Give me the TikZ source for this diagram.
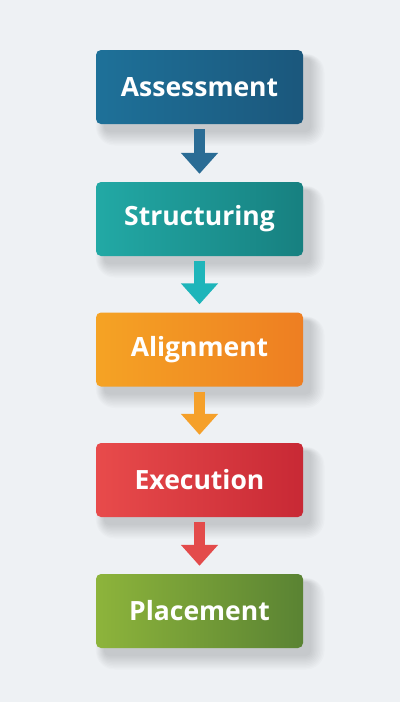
\documentclass[tikz,border=0pt]{standalone}
\usepackage{fontspec}
\setmainfont{Open Sans}
\usetikzlibrary{arrows.meta}
\definecolor{bgcol}{HTML}{EEF1F4}
\definecolor{blueL}{HTML}{1E7199}
\definecolor{blueR}{HTML}{1B577C}
\definecolor{tealL}{HTML}{22A9A5}
\definecolor{tealR}{HTML}{178080}
\definecolor{orangeL}{HTML}{F5A324}
\definecolor{orangeR}{HTML}{EE7E22}
\definecolor{redL}{HTML}{E84B4B}
\definecolor{redR}{HTML}{C82935}
\definecolor{greenL}{HTML}{8DB43B}
\definecolor{greenR}{HTML}{5A8333}
\definecolor{arrBlue}{HTML}{2A6C95}
\definecolor{arrTeal}{HTML}{1EB5BA}
\definecolor{arrOrange}{HTML}{F5A02A}
\definecolor{arrRed}{HTML}{E34B4B}
\tikzset{
  stagebox/.style={rounded corners=5pt, minimum width=207pt, minimum height=74pt,
    inner sep=0pt, text=white, font=\bfseries\fontsize{26.5}{30}\selectfont},
  flowarrow/.style={line width=11pt, -{Triangle[width=36pt,length=21pt]},
    shorten <=5pt, shorten >=8pt}
}
% soft shadow under a box whose centre is at (#1,#2)
\def\boxshadow(#1,#2){\foreach \r in {0,1.5,...,13.5}
  {\fill[black, opacity=0.016, rounded corners=5pt+\r pt]
    (#1-103.5+8-\r*0.6, #2+37-8+\r*0.3) rectangle (#1+103.5+8+\r, #2-37-8-\r);}}

\begin{document}
\begin{tikzpicture}[x=1pt,y=1pt]
			%%%%% START %%%%%
			
			\fill[bgcol] (0, 0) rectangle (400, -702);
			\useasboundingbox (0, 0) rectangle (400, -702);
			
			\boxshadow(199.5,-87)
			\boxshadow(199.5,-219)
			\boxshadow(199.5,-349.5)
			\boxshadow(199.5,-480)
			\boxshadow(199.5,-611)
			
			\node[stagebox, left color=blueL, right color=blueR] (assess) at (199.5, -87) {Assessment};
			\node[stagebox, left color=tealL, right color=tealR] (struct) at (199.5, -219) {Structuring};
			\node[stagebox, left color=orangeL, right color=orangeR] (align) at (199.5, -349.5) {Alignment};
			\node[stagebox, left color=redL, right color=redR] (exec) at (199.5, -480) {Execution};
			\node[stagebox, left color=greenL, right color=greenR] (place) at (199.5, -611) {Placement};
			
			\draw[flowarrow, arrBlue] (assess) -- (struct);
			\draw[flowarrow, arrTeal] (struct) -- (align);
			\draw[flowarrow, arrOrange] (align) -- (exec);
			\draw[flowarrow, arrRed] (exec) -- (place);
			
			%%%%% END %%%%%
\end{tikzpicture}
\end{document}
